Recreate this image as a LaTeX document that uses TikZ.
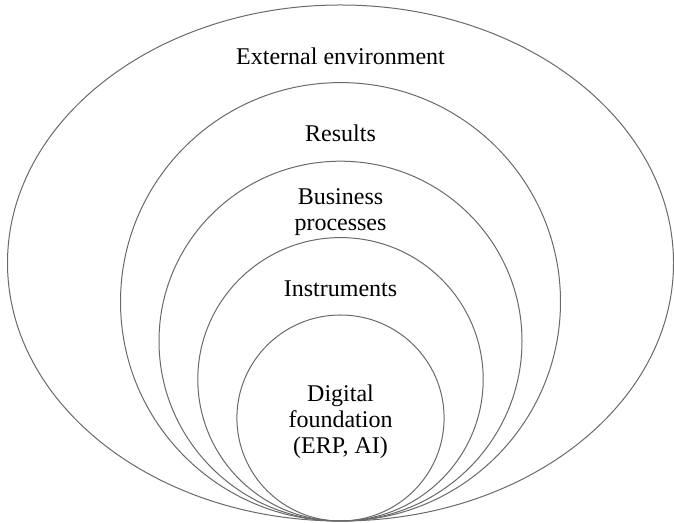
\documentclass[tikz,border=0pt]{standalone}
\usepackage{fontspec}
\setmainfont{Liberation Serif}
\definecolor{ringColor}{RGB}{105,105,105}
\tikzstyle{ringLine} = [color=ringColor, line width=.75pt]
\tikzstyle{ringText} = [font=\fontsize{18}{19.5}\selectfont, align=center, inner sep=0pt]
\newcommand{\ringX}{340.5}
\newcommand{\ringBottom}{2}
% every ring sits on the same bottom point
\newcommand{\ring}[2]{\draw [ringLine] (\ringX, \ringBottom + #2) ellipse (#1 and #2);}

\begin{document}
\begin{tikzpicture}[x = .75pt, y = .75pt]
  \useasboundingbox (0,0) rectangle (674,523);
  \ring{333}{258}
  \ring{220}{219.2}
  \ring{181.5}{179.9}
  \ring{142.7}{141.7}
  \ring{103.6}{103}
  \node [ringText, anchor=base] (external) at (\ringX, 458) {External environment};
  \node [ringText, anchor=base] (results) at (\ringX, 381) {Results};
  \node [ringText] (business) at (\ringX, 311) {Business\\processes};
  \node [ringText, anchor=base] (instruments) at (\ringX, 226) {Instruments};
  \node [ringText] (digital) at (\ringX, 101) {Digital\\foundation\\(ERP, AI)};
\end{tikzpicture}
\end{document}
